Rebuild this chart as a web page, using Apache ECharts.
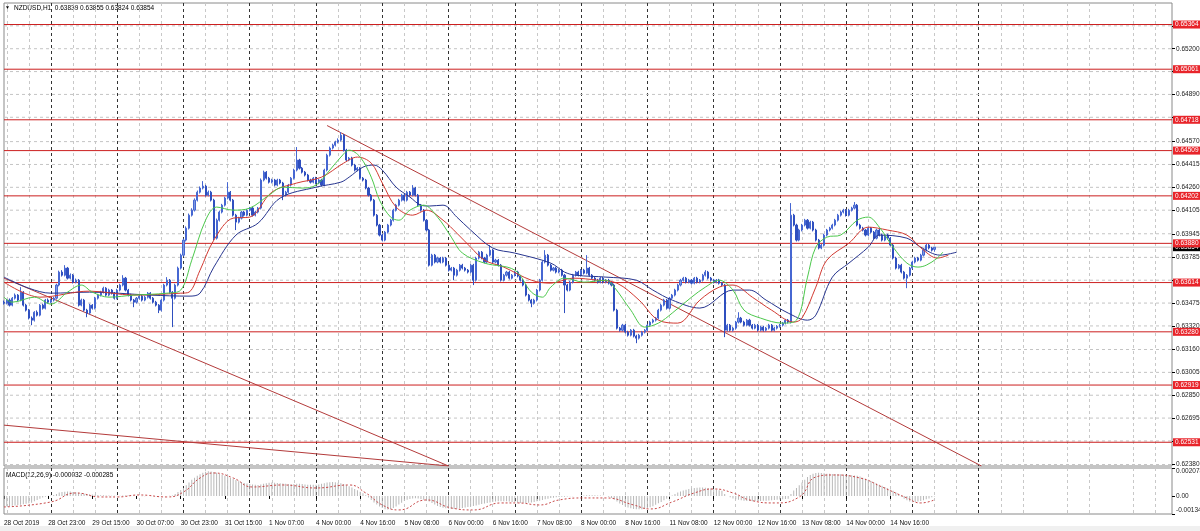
<!DOCTYPE html>
<html><head><meta charset="utf-8">
<script src="https://cdn.jsdelivr.net/npm/echarts@6/dist/echarts.min.js"></script>
<style>html,body{margin:0;padding:0;background:#fff;overflow:hidden}#c{width:1200px;height:531px}</style>
</head><body><div id="c"></div>
<script>
// ---- Data (prices in 1e-5 units, i.e. 63474 = 0.63474) ----
const opens = [
63480,63474,63495,63461,63508,63529,63495,63549,63461,63427,
63373,63359,63413,63393,63461,63440,63495,63481,63495,63508,
63597,63685,63664,63712,63644,63664,63617,63630,63461,63495,
63427,63407,63461,63440,63508,63529,63549,63576,63529,63563,
63542,63508,63563,63597,63644,63563,63529,63495,63481,63508,
63522,63495,63515,63542,63508,63481,63461,63427,63495,63597,
63630,63549,63508,63597,63712,63800,63902,63983,64071,64105,
64173,64227,64255,64268,64207,64227,64173,63915,64037,64092,
64139,64187,64227,64173,64071,64024,64051,64092,64071,64105,
64119,64071,64092,64119,64309,64363,64322,64295,64309,64275,
64309,64289,64207,64227,64275,64322,64377,64445,64390,64363,
64343,64309,64295,64322,64289,64309,64275,64377,64478,64526,
64546,64567,64580,64614,64512,64445,64458,64411,64377,64390,
64322,64309,64255,64207,64173,64071,64004,63936,63902,63956,
64004,64037,64105,64139,64173,64207,64173,64227,64207,64255,
64207,64139,64105,64037,63970,63732,63800,63753,63780,63753,
63780,63732,63698,63712,63664,63698,63732,63712,63698,63685,
63732,63630,63780,63820,63780,63753,63800,63834,63753,63766,
63732,63630,63664,63685,63644,63664,63685,63658,63630,63597,
63529,63495,63474,63495,63563,63630,63753,63800,63732,63698,
63712,63685,63698,63664,63597,63563,63617,63664,63685,63664,
63698,63678,63712,63664,63644,63630,63617,63644,63617,63630,
63610,63597,63427,63305,63291,63325,63278,63257,63291,63251,
63237,63257,63278,63291,63325,63346,63359,63373,63427,63461,
63495,63440,63508,63529,63563,63597,63630,63644,63617,63630,
63610,63644,63617,63630,63664,63685,63644,63630,63617,63630,
63610,63597,63291,63325,63291,63305,63346,63373,63346,63325,
63359,63325,63305,63325,63291,63312,63291,63305,63325,63291,
63305,63318,63325,63339,63359,63346,64071,64004,63902,63970,
64004,64037,63983,64024,63970,63902,63848,63868,63936,63970,
63983,64004,64037,64071,64092,64105,64071,64105,64119,64139,
64004,63983,63970,63936,63983,63956,63915,63970,63936,63902,
63936,63915,63868,63780,63712,63732,63685,63644,63664,63712,
63753,63780,63766,63800,63834,63868,63848,63839];
const highs = [
63492,63503,63506,63516,63540,63536,63583,63556,63470,63435,
63384,63420,63425,63468,63470,63503,63506,63504,63517,63606,
63695,63698,63732,63720,63676,63672,63641,63638,63505,63503,
63436,63470,63468,63517,63537,63558,63586,63583,63572,63570,
63550,63572,63606,63664,63652,63571,63538,63503,63516,63530,
63531,63524,63550,63549,63516,63490,63468,63503,63606,63651,
63638,63556,63606,63722,63810,63912,63995,64082,64118,64185,
64238,64266,64302,64277,64238,64236,64182,64048,64102,64148,
64196,64295,64235,64181,64080,64060,64100,64101,64113,64127,
64128,64101,64127,64320,64373,64370,64331,64318,64317,64318,
64317,64297,64236,64283,64330,64386,64533,64453,64398,64371,
64351,64318,64330,64331,64317,64318,64386,64488,64536,64556,
64576,64592,64634,64622,64521,64466,64467,64419,64398,64397,
64330,64317,64263,64215,64181,64079,64012,63944,63964,64012,
64046,64114,64148,64182,64216,64215,64236,64235,64275,64263,
64215,64147,64113,64045,63978,63809,63808,63789,63788,63789,
63788,63740,63720,63720,63707,63740,63741,63720,63706,63740,
63741,63789,63829,63828,63788,63809,63868,63842,63775,63774,
63740,63673,63693,63694,63672,63693,63694,63666,63638,63605,
63537,63503,63504,63571,63639,63762,63834,63808,63741,63720,
63721,63706,63707,63672,63605,63626,63673,63693,63694,63706,
63707,63800,63720,63672,63652,63639,63652,63653,63638,63639,
63618,63606,63436,63313,63334,63333,63287,63299,63300,63260,
63266,63286,63299,63334,63355,63368,63381,63436,63470,63504,
63503,63517,63537,63572,63606,63639,63653,63652,63639,63638,
63652,63653,63638,63673,63698,63693,63652,63639,63638,63639,
63618,63605,63334,63333,63314,63354,63413,63381,63355,63367,
63368,63333,63334,63333,63320,63321,63313,63334,63333,63313,
63326,63334,63347,63368,63367,64153,64080,64013,63979,64012,
64046,64045,64033,64032,63979,63910,63877,63945,63978,63992,
64013,64046,64080,64101,64114,64113,64114,64128,64160,64147,
64013,63992,63978,63992,63991,63964,63979,63978,63945,63944,
63945,63923,63876,63789,63740,63741,63693,63672,63720,63762,
63789,63788,63809,63843,63877,63876,63856,63855];
const lows = [
63465,63466,63452,63453,63499,63486,63487,63452,63418,63364,
63325,63350,63384,63385,63431,63432,63472,63473,63486,63499,
63588,63655,63656,63635,63636,63608,63609,63452,63453,63418,
63379,63398,63431,63432,63499,63520,63540,63520,63521,63533,
63499,63500,63554,63588,63554,63520,63486,63447,63472,63499,
63486,63487,63506,63499,63472,63452,63407,63418,63486,63588,
63540,63312,63499,63588,63703,63791,63893,63974,64062,64096,
64164,64218,64246,64198,64199,64164,63902,63906,64028,64083,
64130,64178,64164,64062,63970,64015,64042,64062,64063,64096,
64062,64063,64083,64110,64300,64313,64286,64287,64266,64267,
64280,64173,64198,64218,64266,64313,64368,64381,64354,64334,
64300,64286,64287,64280,64281,64266,64267,64368,64469,64517,
64537,64558,64571,64503,64436,64437,64402,64368,64369,64313,
64300,64246,64198,64164,64062,63995,63927,63893,63894,63947,
63995,64028,64096,64130,64164,64165,64164,64198,64199,64198,
64130,64096,64028,63961,63723,63724,63744,63745,63744,63745,
63723,63689,63690,63630,63655,63689,63703,63689,63676,63677,
63597,63621,63771,63772,63744,63745,63791,63744,63745,63723,
63621,63622,63655,63635,63636,63655,63649,63621,63588,63520,
63486,63447,63465,63486,63554,63621,63744,63723,63689,63690,
63676,63677,63655,63407,63554,63555,63608,63655,63656,63655,
63669,63670,63655,63635,63621,63608,63609,63608,63609,63601,
63588,63418,63296,63282,63283,63269,63248,63249,63242,63203,
63228,63248,63269,63282,63316,63337,63350,63364,63418,63452,
63431,63432,63499,63520,63554,63588,63621,63608,63609,63601,
63602,63608,63609,63621,63655,63635,63621,63608,63609,63601,
63588,63244,63282,63283,63282,63296,63337,63338,63316,63317,
63316,63296,63297,63282,63283,63282,63283,63296,63282,63283,
63296,63309,63316,63330,63337,63337,63995,63893,63894,63961,
63995,63974,63975,63961,63893,63839,63840,63859,63927,63961,
63974,63995,64028,64062,64083,64062,64063,64096,64110,63995,
63974,63961,63927,63928,63947,63906,63907,63927,63893,63894,
63906,63859,63771,63703,63704,63676,63635,63576,63655,63703,
63744,63757,63758,63791,63825,63839,63825,63824];
const closes = [
63474,63495,63461,63508,63529,63495,63549,63461,63427,63373,
63359,63413,63393,63461,63440,63495,63481,63495,63508,63597,
63685,63664,63712,63644,63664,63617,63630,63461,63495,63427,
63407,63461,63440,63508,63529,63549,63576,63529,63563,63542,
63508,63563,63597,63644,63563,63529,63495,63481,63508,63522,
63495,63515,63542,63508,63481,63461,63427,63495,63597,63630,
63549,63508,63597,63712,63800,63902,63983,64071,64105,64173,
64227,64255,64268,64207,64227,64173,63915,64037,64092,64139,
64187,64227,64173,64071,64024,64051,64092,64071,64105,64119,
64071,64092,64119,64309,64363,64322,64295,64309,64275,64309,
64289,64207,64227,64275,64322,64377,64445,64390,64363,64343,
64309,64295,64322,64289,64309,64275,64377,64478,64526,64546,
64567,64580,64614,64512,64445,64458,64411,64377,64390,64322,
64309,64255,64207,64173,64071,64004,63936,63902,63956,64004,
64037,64105,64139,64173,64207,64173,64227,64207,64255,64207,
64139,64105,64037,63970,63732,63800,63753,63780,63753,63780,
63732,63698,63712,63664,63698,63732,63712,63698,63685,63732,
63630,63780,63820,63780,63753,63800,63834,63753,63766,63732,
63630,63664,63685,63644,63664,63685,63658,63630,63597,63529,
63495,63474,63495,63563,63630,63753,63800,63732,63698,63712,
63685,63698,63664,63597,63563,63617,63664,63685,63664,63698,
63678,63712,63664,63644,63630,63617,63644,63617,63630,63610,
63597,63427,63305,63291,63325,63278,63257,63291,63251,63237,
63257,63278,63291,63325,63346,63359,63373,63427,63461,63495,
63440,63508,63529,63563,63597,63630,63644,63617,63630,63610,
63644,63617,63630,63664,63685,63644,63630,63617,63630,63610,
63597,63291,63325,63291,63305,63346,63373,63346,63325,63359,
63325,63305,63325,63291,63312,63291,63305,63325,63291,63305,
63318,63325,63339,63359,63346,64071,64004,63902,63970,64004,
64037,63983,64024,63970,63902,63848,63868,63936,63970,63983,
64004,64037,64071,64092,64105,64071,64105,64119,64139,64004,
63983,63970,63936,63983,63956,63915,63970,63936,63902,63936,
63915,63868,63780,63712,63732,63685,63644,63664,63712,63753,
63780,63766,63800,63834,63868,63848,63834,63854];

// Alligator lines (bar index, price 1e-5)
const jawBars = [0,9,17,31,53,67,71,76,84,92,100,113,122,125,130,134,137,142,147,151,154,159,164,169,177,185,198,203,207,218,229,235,242,252,264,270,276,284,291,294,300,306,313,317,327,332,339,345];
const jawVals = [63651,63576,63542,63549,63529,63522,63542,63719,63936,64017,64187,64261,64295,64329,64397,64411,64377,64261,64194,64139,64133,64139,64058,63970,63848,63814,63746,63685,63664,63651,63630,63563,63495,63441,63563,63563,63495,63407,63359,63393,63651,63746,63854,63936,63915,63854,63800,63820];
const teethBars = [0,13,31,47,64,67,71,76,83,89,97,106,115,123,128,133,137,142,148,153,159,164,169,174,181,191,198,206,215,222,230,237,244,252,259,264,271,278,286,289,294,298,306,313,320,327,333,338,342];
const teethVals = [63617,63515,63556,63529,63542,63549,63698,63902,64051,64058,64227,64289,64329,64424,64465,64424,64289,64126,64071,64105,64037,63949,63854,63766,63719,63630,63610,63644,63630,63610,63495,63359,63339,63495,63583,63597,63515,63427,63346,63373,63583,63766,63881,63990,63970,63936,63834,63780,63800];
const lipsBars = [0,3,11,17,23,28,32,38,47,59,64,68,73,77,83,89,96,101,108,113,118,122,125,129,133,136,140,143,147,152,157,162,166,174,185,191,195,198,203,210,218,221,227,232,237,242,249,254,259,264,268,274,282,287,291,294,298,303,309,313,317,322,327,331,334,338,340];
const lipsVals = [63515,63481,63515,63468,63549,63597,63549,63515,63529,63542,63563,63766,64037,64126,64105,64119,64207,64261,64255,64275,64377,64465,64512,64465,64329,64173,64058,64037,64105,64139,64058,63922,63814,63746,63698,63549,63515,63583,63644,63617,63630,63583,63427,63312,63339,63407,63515,63583,63630,63563,63427,63373,63339,63359,63651,63854,63922,63936,64037,64058,63990,63854,63746,63719,63732,63780,63820];

// MACD (1e-6 units)
const macdHist = [
-780,-760,-740,-720,-700,-680,-650,-620,-580,-540,
-500,-400,-300,-200,-120,-60,0,40,80,150,
250,300,320,330,330,300,280,240,200,170,
150,130,110,90,80,60,50,40,30,20,
20,10,20,30,40,30,20,10,0,-10,
-20,-20,-10,0,-10,-20,-30,-20,-10,0,
20,40,150,300,450,600,800,1000,1200,1350,
1500,1620,1720,1800,1830,1820,1780,1720,1650,1580,
1500,1420,1340,1260,1180,1100,1030,970,920,880,
850,830,820,850,900,950,980,1000,990,970,
950,920,900,880,870,880,900,900,880,860,
840,830,830,840,860,900,950,1000,1020,1030,
1010,980,940,880,800,720,620,520,420,320,
200,50,-120,-300,-480,-640,-780,-900,-980,-1000,
-980,-900,-780,-640,-500,-380,-280,-220,-180,-170,
-190,-230,-290,-360,-420,-530,-640,-740,-820,-880,
-920,-950,-960,-960,-950,-930,-900,-860,-820,-780,
-740,-700,-650,-600,-560,-520,-480,-440,-420,-400,
-390,-390,-400,-420,-440,-470,-500,-520,-530,-530,
-510,-480,-440,-400,-350,-300,-250,-200,-160,-130,
-100,-80,-60,-50,-40,-30,-20,-10,0,20,
40,50,60,60,50,40,30,20,0,-60,
-150,-280,-420,-560,-680,-780,-860,-920,-960,-980,
-990,-980,-950,-900,-840,-760,-660,-550,-440,-320,
-200,-80,40,150,250,340,410,470,520,560,
590,610,620,620,610,590,560,520,470,430,
390,150,0,-100,-180,-240,-280,-320,-350,-370,
-380,-390,-390,-380,-370,-360,-350,-340,-320,-300,
-280,-260,-240,-220,-200,150,400,600,800,1000,
1200,1400,1550,1650,1700,1720,1700,1680,1660,1650,
1640,1630,1620,1610,1600,1580,1560,1540,1520,1500,
1440,1360,1280,1200,1110,1020,930,840,750,660,
570,480,390,250,100,-50,-200,-320,-420,-460,
-450,-420,-380,-320,-250,-180,-100,-32];
const sigBars = [0,17,26,35,41,49,59,65,71,76,83,90,101,113,125,131,137,143,153,162,170,180,186,194,201,210,218,228,234,242,250,257,264,270,279,288,294,300,310,318,327,332,337];
const sigVals = [-816,-445,223,-74,-74,74,-74,297,1336,1707,1336,668,816,594,816,223,-668,-1039,-297,-890,-1039,-519,-519,-668,-297,-148,-148,-668,-965,-445,223,519,223,-297,-519,-74,1410,1558,1336,668,-148,-519,-285];

// Horizontal levels and trend lines
const levels = [0.65364,0.65061,0.64718,0.64509,0.64202,0.63880,0.63614,0.63280,0.62919,0.62531];
const bidPrice = 0.63854;
const trend1 = [[0,0.63644],[161,0.62370]];
const trend2 = [[0,0.62647],[161,0.62370]];
const trend3 = [[117,0.64679],[354,0.62370]];

// Axes
const yGridTicks = [0.62380,0.62540,0.62695,0.62850,0.63005,0.63160,0.63320,0.63475,0.63630,0.63785,0.63945,0.64105,0.64260,0.64415,0.64570,0.64735,0.64890,0.65045,0.65200,0.65355];
const yLabelTicks = [0.62380,0.62695,0.62850,0.63005,0.63160,0.63320,0.63475,0.63785,0.63945,0.64105,0.64260,0.64415,0.64570,0.64890,0.65200];
const macdTicks = [-0.00134,0,0.002078];
const macdTickText = ['-0.00134','0.00','0.002078'];
const tradingDays = ['28 Oct','29 Oct','30 Oct','31 Oct','1 Nov','4 Nov','5 Nov','6 Nov','7 Nov','8 Nov','11 Nov','12 Nov','13 Nov','14 Nov','15 Nov','18 Nov','19 Nov','20 Nov'];
const timeTicks = ['28 Oct 07:00','28 Oct 23:00','29 Oct 15:00','30 Oct 07:00','30 Oct 23:00','31 Oct 15:00','1 Nov 07:00','4 Nov 00:00','4 Nov 16:00','5 Nov 08:00','6 Nov 00:00','6 Nov 16:00','7 Nov 08:00','8 Nov 00:00','8 Nov 16:00','11 Nov 08:00','12 Nov 00:00','12 Nov 16:00','13 Nov 08:00','14 Nov 00:00','14 Nov 16:00'];
const timeTickText = ['28 Oct 2019','28 Oct 23:00','29 Oct 15:00','30 Oct 07:00','30 Oct 23:00','31 Oct 15:00','1 Nov 07:00','4 Nov 00:00','4 Nov 16:00','5 Nov 08:00','6 Nov 00:00','6 Nov 16:00','7 Nov 08:00','8 Nov 00:00','8 Nov 16:00','11 Nov 08:00','12 Nov 00:00','12 Nov 16:00','13 Nov 08:00','14 Nov 00:00','14 Nov 16:00'];
const titleText = 'NZDUSD,H1  0.63839 0.63855 0.63824 0.63854';
const macdTitle = 'MACD(12,26,9) -0.000032 -0.000285';

// ---- Build ----
const SLOTS = 424;
const LAST = SLOTS - 1;
const categories = [];
for (let d = 0; d < tradingDays.length && categories.length < SLOTS; d++) {
  for (let h = (d === 0 ? 7 : 0); h < 24 && categories.length < SLOTS; h++) {
    categories.push(tradingDays[d] + ' ' + (h < 10 ? '0' : '') + h + ':00');
  }
}
const tickMap = {};
timeTicks.forEach((t, i) => { tickMap[t] = timeTickText[i]; });
const P = v => v / 100000;
const candleData = closes.map((c, i) => [P(opens[i]), P(c), P(lows[i]), P(highs[i])]);
const pts = (bars, vals) => bars.map((b, i) => [b, P(vals[i])]);
const FONT = '"Liberation Sans", Arial, sans-serif';
const FS = 6.5;
const lightSplit = idx => idx % 8 === 1 && idx % 24 !== 17;
const darkSplit = idx => idx % 24 === 17 && idx <= 353;

function xAxes(gridIndex, withLabels) {
  return [{
    type: 'category', gridIndex, data: categories, boundaryGap: false, position: 'bottom',
    axisLine: { show: false },
    axisTick: { show: withLabels, interval: (i, v) => v in tickMap, length: 3, inside: false, lineStyle: { color: '#000' } },
    axisLabel: { show: withLabels, interval: (i, v) => v in tickMap, formatter: v => tickMap[v] || '',
      align: 'left', margin: 6, fontSize: FS, fontFamily: FONT, color: '#111', hideOverlap: false },
    splitLine: { show: true, interval: lightSplit, lineStyle: { color: '#c8c8c8', type: [3, 3], width: 1 } }
  }, {
    type: 'category', gridIndex, data: categories, boundaryGap: false, position: 'top',
    axisLine: { show: false }, axisTick: { show: false }, axisLabel: { show: false },
    splitLine: { show: true, interval: darkSplit, lineStyle: { color: '#333', type: [3, 3], width: 1 } }
  }];
}

function hLine(v, style, z, label) {
  const s = { type: 'line', xAxisIndex: 0, yAxisIndex: 0, data: [[0, v], [LAST, v]], symbol: 'none', z, silent: true,
    lineStyle: style, emphasis: { disabled: true } };
  if (label) s.endLabel = Object.assign({ show: true, distance: 1, formatter: () => v.toFixed(5), color: '#fff',
    fontSize: FS, fontFamily: FONT, padding: [1, 2, 0, 2] }, label);
  return s;
}

const chart = echarts.init(document.getElementById('c'), null, { renderer: 'canvas' });
const option = {
  animation: false,
  backgroundColor: '#ffffff',
  textStyle: { fontFamily: FONT },
  grid: [
    { left: 4, right: 28, top: 3, height: 463, show: true, borderColor: '#8a8a8a', borderWidth: 1, backgroundColor: '#fff', containLabel: false, outerBoundsMode: 'none' },
    { left: 4, right: 28, top: 468, height: 46, show: true, borderColor: '#8a8a8a', borderWidth: 1, backgroundColor: '#fff', containLabel: false, outerBoundsMode: 'none' }
  ],
  xAxis: [...xAxes(0, false), ...xAxes(1, true)],
  yAxis: [{
    type: 'value', gridIndex: 0, position: 'right', min: 0.6237, max: 0.6551, scale: true,
    axisLine: { show: false },
    axisTick: { show: true, customValues: yGridTicks, length: 3, lineStyle: { color: '#000' } },
    axisLabel: { customValues: yLabelTicks, formatter: v => v.toFixed(5), fontSize: FS, fontFamily: FONT, color: '#222', margin: 4, hideOverlap: false },
    splitLine: { show: false }
  }, {
    type: 'value', gridIndex: 1, position: 'right', min: -0.00134, max: 0.002078,
    axisLine: { show: false },
    axisTick: { show: true, customValues: macdTicks, length: 3, lineStyle: { color: '#000' } },
    axisLabel: { customValues: macdTicks, formatter: v => { const k = macdTicks.indexOf(v); return k >= 0 ? macdTickText[k] : (Math.abs(v) < 1e-9 ? '0.00' : ''); },
      fontSize: FS, fontFamily: FONT, color: '#222', margin: 4, hideOverlap: false,
      verticalAlignMaxLabel: 'top', verticalAlignMinLabel: 'bottom' },
    splitLine: { show: false }
  }],
  graphic: [
    { type: 'rect', left: 0, top: 526, shape: { width: 1200, height: 5 }, style: { fill: '#f0f0f0' }, silent: true },
    { type: 'text', left: 5, top: 5, style: { text: '\u25BC', font: '5px ' + FONT, fill: '#000' } },
    { type: 'text', left: 14, top: 4.5, style: { text: titleText, font: FS + 'px ' + FONT, fill: '#000' } },
    { type: 'text', left: 6, top: 471.5, style: { text: macdTitle, font: FS + 'px ' + FONT, fill: '#000' } }
  ],
  series: [
    ...yGridTicks.map(v => hLine(v, { color: '#c4c4c4', type: [3, 3], width: 1 }, 1, null)),
    hLine(bidPrice, { color: '#c8c8c8', width: 1 }, 2, { backgroundColor: '#000' }),
    ...levels.map(v => hLine(v, { color: '#cc1f1f', width: 1 }, 3, { backgroundColor: '#e8242a' })),
    ...[trend1, trend2, trend3].map(t => ({
      type: 'line', xAxisIndex: 0, yAxisIndex: 0, data: t, symbol: 'none', clip: true, z: 3, silent: true,
      lineStyle: { color: '#b33a3a', width: 1 }
    })),
    {
      type: 'candlestick', xAxisIndex: 0, yAxisIndex: 0, data: candleData, barWidth: 1.6, z: 5, silent: true,
      itemStyle: { color: '#7f99e0', color0: '#2f4fbf', borderColor: '#4667d2', borderColor0: '#2f4fbf', borderWidth: 1 }
    },
    { type: 'line', xAxisIndex: 0, yAxisIndex: 0, data: pts(jawBars, jawVals), symbol: 'none', smooth: 0.35, z: 6, silent: true, lineStyle: { color: '#27358f', width: 1 } },
    { type: 'line', xAxisIndex: 0, yAxisIndex: 0, data: pts(teethBars, teethVals), symbol: 'none', smooth: 0.35, z: 6, silent: true, lineStyle: { color: '#d23a32', width: 1 } },
    { type: 'line', xAxisIndex: 0, yAxisIndex: 0, data: pts(lipsBars, lipsVals), symbol: 'none', smooth: 0.35, z: 6, silent: true, lineStyle: { color: '#4cc84c', width: 1 } },
    { type: 'bar', xAxisIndex: 2, yAxisIndex: 1, data: macdHist.map(v => v / 1e6), barWidth: 1, silent: true, itemStyle: { color: '#b8b8b8' }, z: 3 },
    { type: 'line', xAxisIndex: 2, yAxisIndex: 1, data: sigBars.map((b, i) => [b, sigVals[i] / 1e6]), symbol: 'none', smooth: 0.5, silent: true, z: 4,
      lineStyle: { color: '#c84848', width: 1, type: [2, 2] } }
  ]
};
chart.setOption(option);
</script></body></html>
